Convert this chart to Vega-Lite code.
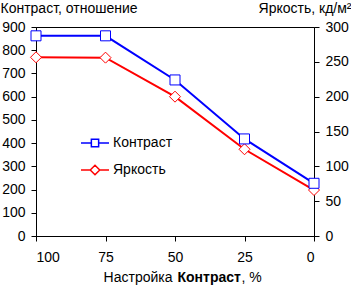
{
  "$schema": "https://vega.github.io/schema/vega-lite/v6.json",
  "width": 278,
  "height": 209,
  "autosize": "none",
  "padding": {"left": 36, "top": 27, "right": 37, "bottom": 49},
  "background": "white",
  "config": {
    "font": "Liberation Sans",
    "view": {"stroke": "black", "strokeWidth": 1},
    "axis": {
      "grid": false,
      "domainColor": "black",
      "tickColor": "black",
      "labelColor": "black",
      "titleColor": "black",
      "labelFont": "Liberation Sans",
      "titleFont": "Liberation Sans",
      "labelFontSize": 14,
      "titleFontSize": 14,
      "titleFontWeight": "normal",
      "tickSize": 5
    },
    "legend": {
      "labelFont": "Liberation Sans",
      "labelFontSize": 14,
      "labelColor": "black"
    }
  },
  "data": {
    "values": [
      {"pct": 100, "contrast": 862, "brightness": 256.5},
      {"pct": 75, "contrast": 862, "brightness": 256},
      {"pct": 50, "contrast": 672, "brightness": 200},
      {"pct": 25, "contrast": 418, "brightness": 124.5},
      {"pct": 0, "contrast": 227, "brightness": 66}
    ]
  },
  "resolve": {"scale": {"y": "independent"}, "axis": {"x": "independent"}},
  "layer": [
    {
      "mark": {"type": "line", "strokeWidth": 2},
      "encoding": {
        "x": {
          "field": "pct", "type": "quantitative",
          "scale": {"domain": [0, 100], "reverse": true, "nice": false, "zero": false},
          "axis": {
            "orient": "bottom",
            "values": [0, 25, 50, 75, 100], "tickSize": 5, "labelPadding": 9,
            "title": "Настройка", "titleAlign": "right", "titleAnchor": null,
            "titleX": 136, "titleY": 45, "titleBaseline": "alphabetic"
          }
        },
        "y": {
          "field": "contrast", "type": "quantitative",
          "scale": {"domain": [0, 900], "nice": false},
          "axis": {
            "orient": "left", "values": [0, 100, 200, 300, 400, 500, 600, 700, 800, 900],
            "labelPadding": 6,
            "title": "Контраст, отношение", "titleAngle": 0, "titleAlign": "left",
            "titleAnchor": null, "titleX": -36, "titleY": -15, "titleBaseline": "alphabetic"
          }
        },
        "color": {
          "datum": "Контраст",
          "scale": {"domain": ["Контраст", "Яркость"], "range": ["#0000ff", "#ff0000"]},
          "legend": {
            "title": null,
            "orient": "none",
            "legendX": 44,
            "legendY": 101,
            "padding": 0,
            "rowPadding": 5,
            "symbolSize": 784,
            "labelOffset": 3,
            "symbolStrokeWidth": 1.5,
            "encode": {
              "symbols": {
                "update": {
                  "shape": {"signal": "datum.value === 'Контраст' ? 'M-1,0H-0.26M0.26,0H1M-0.26,-0.26H0.26V0.26H-0.26Z' : 'M-1,0H-0.34M0.34,0H1M-0.34,0L0,-0.34L0.34,0L0,0.34Z'"},
                  "fill": {"value": "white"},
                  "fillOpacity": {"value": 1},
                  "stroke": {"scale": "color", "field": "value"},
                  "strokeWidth": {"value": 1.5}
                }
              }
            }
          }
        }
      }
    },
    {
      "mark": {"type": "line", "strokeWidth": 2},
      "encoding": {
        "x": {
          "field": "pct", "type": "quantitative",
          "scale": {"domain": [0, 100], "reverse": true, "nice": false, "zero": false},
          "axis": {
            "orient": "bottom",
            "domain": false, "ticks": false, "labels": false,
            "title": "Контраст", "titleFontWeight": "bold", "titleAlign": "left", "titleAnchor": null,
            "titleX": 141, "titleY": 45, "titleBaseline": "alphabetic"
          }
        },
        "y": {
          "field": "brightness", "type": "quantitative",
          "scale": {"domain": [0, 300], "nice": false},
          "axis": {
            "orient": "right", "values": [0, 50, 100, 150, 200, 250, 300],
            "labelPadding": 6,
            "title": "Яркость, кд/м²", "titleAngle": 0, "titleAlign": "right",
            "titleAnchor": null, "titleX": 37, "titleY": -15, "titleBaseline": "alphabetic"
          }
        },
        "color": {"datum": "Яркость"}
      }
    },
    {
      "mark": {"type": "point", "shape": "diamond", "size": 121, "filled": false, "fill": "white", "fillOpacity": 1, "strokeWidth": 1, "opacity": 1},
      "encoding": {
        "x": {
          "field": "pct", "type": "quantitative",
          "scale": {"domain": [0, 100], "reverse": true, "nice": false, "zero": false},
          "axis": {
            "orient": "bottom",
            "domain": false, "ticks": false, "labels": false,
            "title": ", %", "titleAlign": "left", "titleAnchor": null,
            "titleX": 205, "titleY": 45, "titleBaseline": "alphabetic"
          }
        },
        "y": {
          "field": "brightness", "type": "quantitative",
          "scale": {"domain": [0, 300], "nice": false},
          "axis": null
        },
        "color": {"datum": "Яркость"}
      }
    },
    {
      "mark": {"type": "point", "shape": "square", "size": 100, "filled": false, "fill": "white", "fillOpacity": 1, "strokeWidth": 1, "opacity": 1},
      "encoding": {
        "x": {
          "field": "pct", "type": "quantitative",
          "scale": {"domain": [0, 100], "reverse": true, "nice": false, "zero": false},
          "axis": null
        },
        "y": {
          "field": "contrast", "type": "quantitative",
          "scale": {"domain": [0, 900], "nice": false},
          "axis": null
        },
        "color": {"datum": "Контраст"}
      }
    }
  ]
}
